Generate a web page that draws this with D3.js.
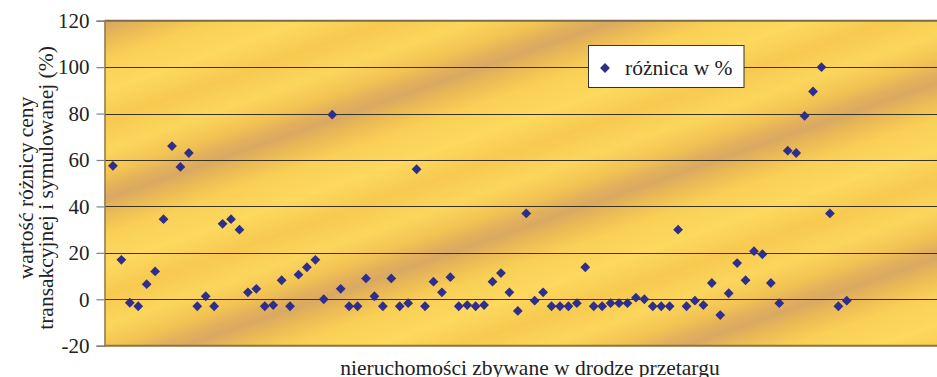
<!DOCTYPE html>
<html>
<head>
<meta charset="utf-8">
<script src="https://cdn.jsdelivr.net/npm/d3@7"></script>
<style>
  html, body { margin: 0; padding: 0; background: #fff; }
  svg { display: block; }
  svg text { font-family: "Liberation Serif", "Times New Roman", Tinos, "DejaVu Serif", serif !important; fill: #222; }
</style>
</head>
<body>
<svg id="chart" width="937" height="377"></svg>
<script>
// ---- data ----
const seriesName = "różnica w %";
const values = [
  57.5, 17, -1.5, -3, 6.5, 12, 34.5, 66, 57, 63,
  -3, 1.3, -3, 32.5, 34.5, 30, 3, 4.5, -3, -2.5,
  8.2, -3, 10.6, 13.8, 17, 0, 79.5, 4.5, -3, -3,
  9, 1.3, -3, 9, -3, -1.7, 56, -3, 7.6, 3,
  9.5, -3, -2.5, -3, -2.5, 7.6, 11.3, 3, -5, 37,
  -0.6, 3, -3, -3, -3, -1.7, 13.8, -3, -3, -1.7,
  -1.7, -1.7, 0.7, 0, -3, -3, -3, 30, -3, -0.6,
  -2.5, 7, -6.8, 2.6, 15.6, 8.2, 20.7, 19.4, 7, -1.7,
  64, 63, 79, 89.5, 100, 37, -3, -0.6
];
const yTicks = [-20, 0, 20, 40, 60, 80, 100, 120];
const yTickLabels = ["-20", "0", "20", "40", "60", "80", "100", "120"];
const xTitle = "nieruchomości zbywane w drodze przetargu";
const yTitleLines = ["wartość różnicy ceny", "transakcyjnej i symulowanej (%)"];

// ---- layout ----
const W = 937, H = 377;
const plot = { left: 104.5, top: 20.7, bottom: 345.7, right: 948 };
const FONT = '"Liberation Serif", "Times New Roman", Tinos, "DejaVu Serif", serif';

const svg = d3.select("#chart");
const x = d3.scaleLinear().domain([0, 100]).range([plot.left, plot.right]);
const y = d3.scaleLinear().domain([-20, 120]).range([plot.bottom, plot.top]);

// background gradient (diagonal repeating bands)
const defs = svg.append("defs");
const nx = 0.33, ny = 0.944, p0 = 58, period = 165;
const grad = defs.append("linearGradient")
  .attr("id", "bg")
  .attr("gradientUnits", "userSpaceOnUse")
  .attr("spreadMethod", "repeat")
  .attr("x1", nx * p0).attr("y1", ny * p0)
  .attr("x2", nx * (p0 + period)).attr("y2", ny * (p0 + period));
[
  [0, "#d9a962"], [0.08, "#eab955"], [0.2, "#f9cf56"], [0.38, "#fdd95e"],
  [0.55, "#f7c94f"], [0.72, "#fcd65c"], [0.86, "#f2c353"], [0.94, "#e2b05c"], [1, "#d9a962"]
].forEach(([o, c]) => grad.append("stop").attr("offset", o).attr("stop-color", c));

defs.append("clipPath").attr("id", "clip")
  .append("rect").attr("x", 0).attr("y", 0).attr("width", W).attr("height", H);

const g = svg.append("g").attr("clip-path", "url(#clip)");

g.append("rect")
  .attr("x", plot.left).attr("y", plot.top)
  .attr("width", plot.right - plot.left).attr("height", plot.bottom - plot.top)
  .attr("fill", "url(#bg)");

// gridlines
g.append("g").selectAll("line")
  .data(yTicks.filter(t => t > -20 && t < 120))
  .join("line")
  .attr("x1", plot.left).attr("x2", plot.right)
  .attr("y1", d => Math.round(y(d)) + 0.5).attr("y2", d => Math.round(y(d)) + 0.5)
  .attr("stroke", "#3a3322").attr("stroke-width", 1.2);

// borders
g.append("line").attr("x1", plot.left).attr("x2", plot.right)
  .attr("y1", y(120)).attr("y2", y(120))
  .attr("stroke", "#7a6b48").attr("stroke-width", 2);
g.append("line").attr("x1", plot.left).attr("x2", plot.right)
  .attr("y1", y(-20)).attr("y2", y(-20))
  .attr("stroke", "#8a7444").attr("stroke-width", 2);

// y axis
const yAxis = d3.axisLeft(y).tickValues(yTicks).tickSize(8).tickPadding(7)
  .tickFormat((d, i) => yTickLabels[i]);
const ax = svg.append("g").attr("transform", `translate(${plot.left},0)`).call(yAxis)
  .attr("font-family", FONT).attr("font-size", 21);
ax.select(".domain").attr("stroke", "#8a7c5a").attr("stroke-width", 1.5);
ax.selectAll(".tick line").attr("stroke", "#808080").attr("stroke-width", 1.2);
ax.selectAll(".tick text").attr("fill", "#222");

// points
const diamond = d3.symbol().type(d3.symbolSquare).size(48);
g.append("g").selectAll("path")
  .data(values)
  .join("path")
  .attr("d", diamond)
  .attr("transform", (d, i) => `translate(${x(i + 1)},${y(d)}) rotate(45)`)
  .attr("fill", "#2e2f8c");

// legend
const leg = svg.append("g");
leg.append("rect").attr("x", 588.5).attr("y", 45.5).attr("width", 155.5).attr("height", 42)
  .attr("fill", "#fff").attr("stroke", "#333").attr("stroke-width", 1);
leg.append("path").attr("d", diamond)
  .attr("transform", "translate(605,68) rotate(45)").attr("fill", "#2e2f8c");
leg.append("text").attr("x", 625).attr("y", 74.5)
  .attr("font-family", FONT).attr("font-size", 21.5).text(seriesName);

// axis titles
svg.append("text").attr("x", 530).attr("y", 375)
  .attr("text-anchor", "middle").attr("font-family", FONT).attr("font-size", 21.5).text(xTitle);

const yt = svg.append("text").attr("transform", "translate(0,188) rotate(-90)")
  .attr("text-anchor", "middle").attr("font-family", FONT).attr("font-size", 21.5);
yt.append("tspan").attr("x", 0).attr("y", 33).text(yTitleLines[0]);
yt.append("tspan").attr("x", 0).attr("y", 53).text(yTitleLines[1]);
</script>
</body>
</html>
